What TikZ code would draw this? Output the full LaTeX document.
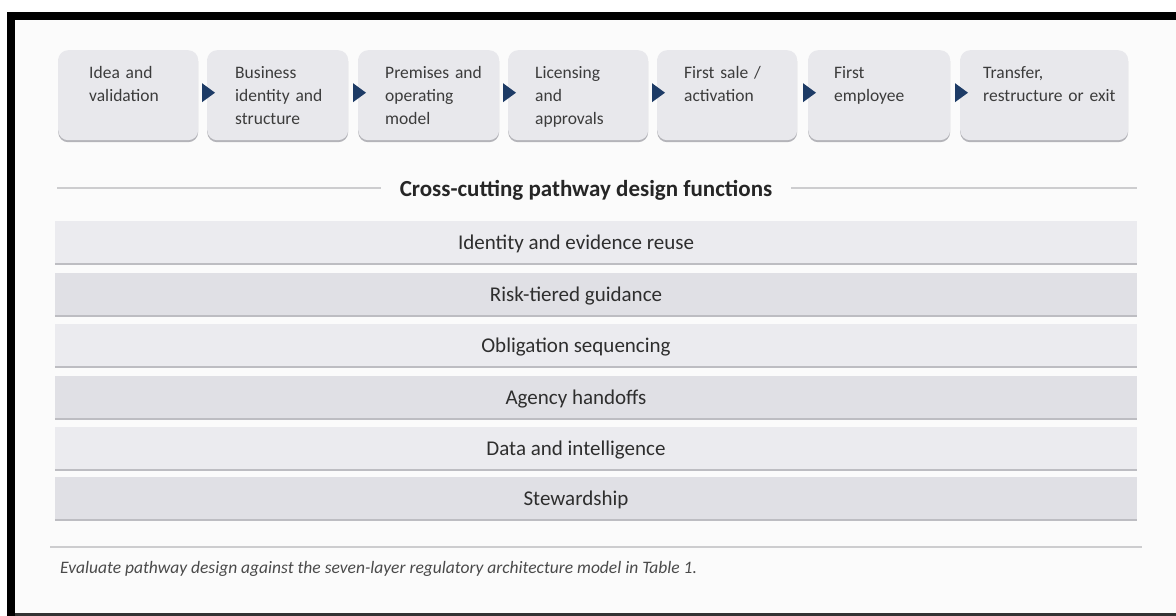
\documentclass[tikz,border=0pt]{standalone}
\usepackage{fontspec}
\setmainfont{Carlito}
\usetikzlibrary{shadows}

\definecolor{pagebg}{HTML}{FBFBFB}
\definecolor{boxfill}{HTML}{E8E8EC}
\definecolor{boxshade}{HTML}{B4B4B9}
\definecolor{bandA}{HTML}{EBEBEF}
\definecolor{bandB}{HTML}{E0E0E5}
\definecolor{bandedge}{HTML}{BDBDC2}
\definecolor{rulegray}{HTML}{CDCDCF}
\definecolor{navy}{HTML}{1D3B66}
\definecolor{ink}{HTML}{3C3C3C}
\definecolor{bandink}{HTML}{2E2E2E}
\definecolor{titleink}{HTML}{262626}
\definecolor{noteink}{HTML}{4A4A4A}
\definecolor{framegray}{HTML}{333333}

\tikzset{
  stage/.style={rectangle, rounded corners=10pt, fill=boxfill, anchor=north west,
    minimum height=90pt, inner sep=0pt,
    drop shadow={shadow xshift=0pt, shadow yshift=-2pt, fill=boxshade, opacity=1}},
  stagelabel/.style={anchor=base west, inner sep=0pt, text width=135pt, align=left,
    text=ink, font=\fontsize{17.5}{23}\selectfont},
  marker/.style={fill=navy},
  band/.style={rectangle, minimum width=1082pt, minimum height=43pt, inner sep=0pt},
  bandlabel/.style={anchor=base, inner sep=0pt, text=bandink,
    font=\fontsize{21}{24}\selectfont},
  bandline/.style={draw=bandedge, line width=2pt},
  rule/.style={draw=rulegray, line width=1.5pt},
}

\begin{document}
\begin{tikzpicture}[x=1pt,y=-1pt]
\useasboundingbox (0,0) rectangle (1176,616);
\fill[white] (0,0) rectangle (1176,616);
\fill[pagebg] (15,20) rectangle (1176,613);

% frame
\fill[black] (7,12) rectangle (1176,20);
\fill[black] (7,12) rectangle (15,616);
\fill[framegray] (15,613) rectangle (1176,616);

% pathway stages
\node[stage, minimum width=140pt] (s1) at (58,50) {};
\node[stage, minimum width=141pt] (s2) at (207,50) {};
\node[stage, minimum width=141pt] (s3) at (358,50) {};
\node[stage, minimum width=140pt] (s4) at (508,50) {};
\node[stage, minimum width=140pt] (s5) at (657,50) {};
\node[stage, minimum width=142pt] (s6) at (808,50) {};
\node[stage, minimum width=168pt] (s7) at (960,50) {};

\node[stagelabel] (t1) at ([shift={(31,28)}]s1.north west) {Idea and\\validation};
\node[stagelabel] (t2) at ([shift={(28,28)}]s2.north west) {Business\\identity and\\structure};
\node[stagelabel] (t3) at ([shift={(27,28)}]s3.north west) {Premises and\\operating\\model};
\node[stagelabel] (t4) at ([shift={(27,28)}]s4.north west) {Licensing\\and\\approvals};
\node[stagelabel] (t5) at ([shift={(27,28)}]s5.north west) {First sale /\\activation};
\node[stagelabel] (t6) at ([shift={(26,28)}]s6.north west) {First\\employee};
\node[stagelabel] (t7) at ([shift={(23,28)}]s7.north west) {Transfer,\\restructure or exit};

% step markers between stages
\foreach \n in {s2,s3,s4,s5,s6,s7}{
  \fill[marker] ([shift={(-5,-12)}]\n.west) -- ([shift={(8,-2.5)}]\n.west)
    -- ([shift={(-5,7)}]\n.west) -- cycle;
}

% heading with rules
\node[anchor=base, inner xsep=19pt, inner ysep=0pt, text=titleink,
  font=\fontsize{23}{27}\selectfont\bfseries] (title) at (586,196.5)
  {Cross-cutting pathway design functions};
\coordinate (hl) at (57,188);
\coordinate (hr) at (1137,188);
\draw[rule] (hl) -- (hl -| title.west);
\draw[rule] (hr -| title.east) -- (hr);

% cross-cutting functions
\node[band, fill=bandA] (b1) at (596,242) {};
\node[band, fill=bandB] (b2) at (596,294) {};
\node[band, fill=bandA] (b3) at (596,345.5) {};
\node[band, fill=bandB] (b4) at (596,397.5) {};
\node[band, fill=bandA] (b5) at (596,448) {};
\node[band, fill=bandB] (b6) at (596,498.5) {};
\foreach \b in {b1,b2,b3,b4,b5,b6}{
  \draw[bandline] (\b.south west) -- (\b.south east);
}

\node[bandlabel] (l1) at (576,249) {Identity and evidence reuse};
\node[bandlabel] (l2) at (576,301) {Risk-tiered guidance};
\node[bandlabel] (l3) at (576,352.5) {Obligation sequencing};
\node[bandlabel] (l4) at (576,404.5) {Agency handoffs};
\node[bandlabel] (l5) at (576,455) {Data and intelligence};
\node[bandlabel] (l6) at (576,505.5) {Stewardship};

% footer
\coordinate (fl) at (50,547);
\coordinate (fr) at (1142,547);
\draw[rule] (fl) -- (fr);
\node[anchor=base west, inner sep=0pt, text=noteink,
  font=\fontsize{17.5}{20}\selectfont\itshape] (note) at (60,573)
  {Evaluate pathway design against the seven-layer regulatory architecture model in Table 1.};
\end{tikzpicture}
\end{document}
